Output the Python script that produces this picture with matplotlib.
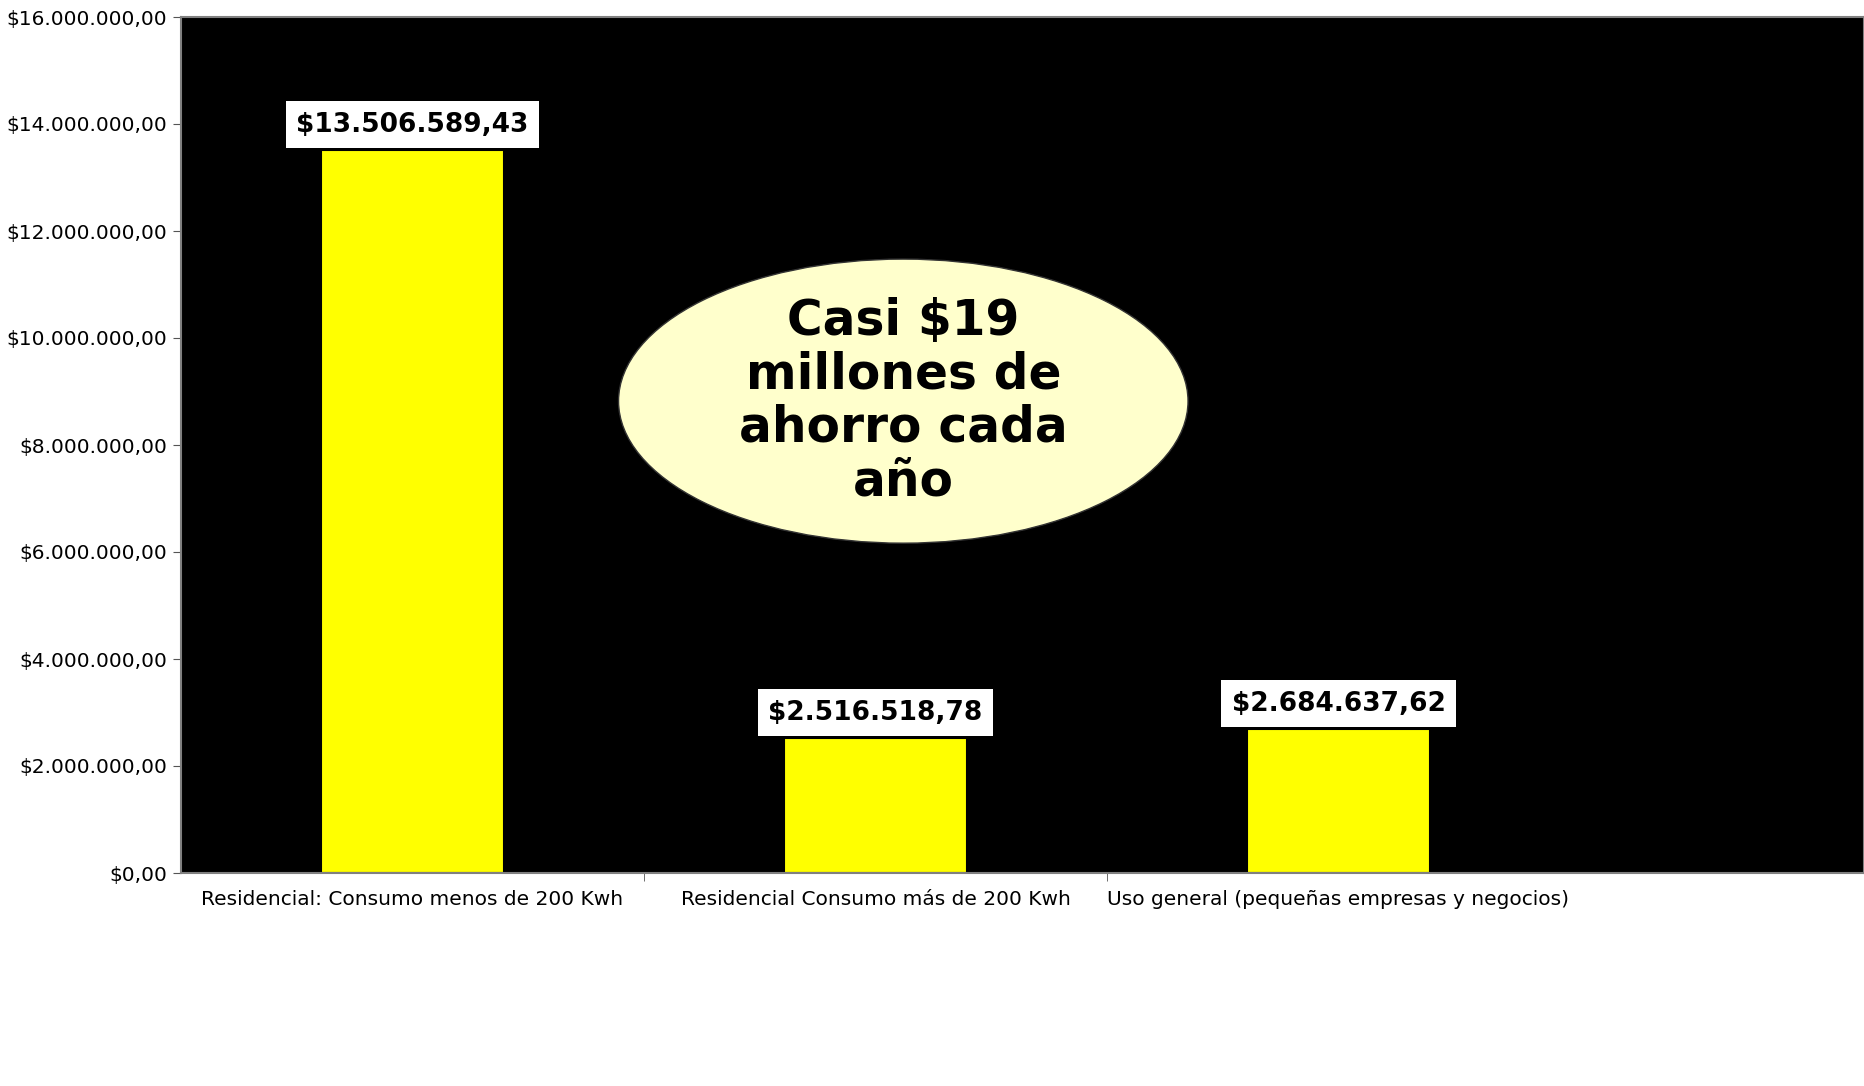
import matplotlib.pyplot as plt
from matplotlib.patches import Ellipse
from matplotlib.ticker import FuncFormatter, FixedLocator
import numpy as np

categorias = ["Residencial: Consumo menos de 200 Kwh",
              "Residencial Consumo más de 200 Kwh",
              "Uso general (pequeñas empresas y negocios)"]
ahorro = [13506589.43, 2516518.78, 2684637.62]
etiquetas = ["$13.506.589,43", "$2.516.518,78", "$2.684.637,62"]
nota = "Casi $19\nmillones de\nahorro cada\naño"


def pesos(v, pos=None):
    s = f"{v:,.2f}"
    s = s.replace(",", "X").replace(".", ",").replace("X", ".")
    return "$" + s


fig = plt.figure(figsize=(18.64, 10.86), dpi=100)
ax = fig.add_axes([181 / 1864, 1 - 873 / 1086, 1 - 181 / 1864, (873 - 17) / 1086])
ax.set_facecolor('black')

x = np.arange(len(categorias))
ax.bar(x, ahorro, width=0.395, color='#FFFF00', edgecolor='black', linewidth=1.5, zorder=2)

for xi, v, lab in zip(x, ahorro, etiquetas):
    ax.annotate(lab, (xi, v), xytext=(0, 9), textcoords='offset points',
                ha='center', va='bottom', fontsize=19, fontweight='bold',
                bbox=dict(boxstyle='square,pad=0.4', fc='white', ec='none'), zorder=4)

ax.set_ylim(0, 16000000)
ax.set_xlim(-0.5, 3.135)
ax.set_yticks(np.arange(0, 16000001, 2000000))
ax.yaxis.set_major_formatter(FuncFormatter(pesos))
ax.set_xticks(x)
ax.set_xticklabels(categorias)
ax.xaxis.set_minor_locator(FixedLocator([0.5, 1.5]))
ax.tick_params(axis='x', which='major', length=0, labelsize=14.5, pad=12)
ax.tick_params(axis='x', which='minor', length=6, color='#555555')
ax.tick_params(axis='y', length=6, color='#555555', labelsize=14.5, pad=4)
for s in ax.spines.values():
    s.set_color('#808080')
    s.set_linewidth(1.5)

# globo con el total
el = Ellipse((1.06, 8.82e6), 1.23, 5.31e6, fc='#FFFFCC', ec='#333333', lw=1, zorder=3)
ax.add_patch(el)
ax.text(1.06, 8.82e6, nota, ha='center', va='center', fontsize=35,
        fontweight='bold', linespacing=1.15, zorder=5)

fig.savefig("out.png", dpi=100)
